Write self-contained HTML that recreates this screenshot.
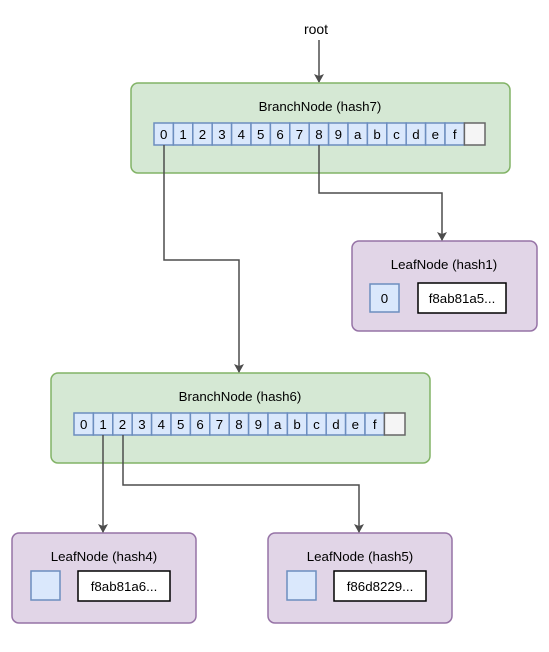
<!DOCTYPE html>
<html><head><meta charset="utf-8"><style>body{margin:0;background:#fff}svg{display:block}text{font-family:"Liberation Sans",Arial,sans-serif;fill:#000}</style></head>
<body>
<svg width="549" height="652" viewBox="0 0 549 652" xmlns="http://www.w3.org/2000/svg">
<defs><marker id="a" markerWidth="10" markerHeight="10" refX="8" refY="5" orient="auto" markerUnits="userSpaceOnUse"><path d="M0,0 L9,5 L0,10 L2,5 z" fill="#4d4d4d"/></marker></defs>
<text x="316" y="34" font-size="14" text-anchor="middle">root</text>
<g fill="none" stroke="#4d4d4d" stroke-width="1.5">
<path d="M319 40 V82" marker-end="url(#a)"/>
</g>
<rect x="131" y="83" width="379" height="90" rx="7" fill="#d5e8d4" stroke="#82b366" stroke-width="1.5"/>
<text x="320" y="111" font-size="13.3" text-anchor="middle">BranchNode (hash7)</text>
<rect x="51" y="373" width="379" height="90" rx="7" fill="#d5e8d4" stroke="#82b366" stroke-width="1.5"/>
<text x="240" y="401" font-size="13.3" text-anchor="middle">BranchNode (hash6)</text>
<g font-size="13.3" text-anchor="middle" stroke-width="1.5">
<rect x="154" y="123" width="19.4" height="22" fill="#dae8fc" stroke="#6c8ebf"/><text x="163.7" y="139">0</text>
<rect x="173.4" y="123" width="19.4" height="22" fill="#dae8fc" stroke="#6c8ebf"/><text x="183.1" y="139">1</text>
<rect x="192.8" y="123" width="19.4" height="22" fill="#dae8fc" stroke="#6c8ebf"/><text x="202.5" y="139">2</text>
<rect x="212.2" y="123" width="19.4" height="22" fill="#dae8fc" stroke="#6c8ebf"/><text x="221.9" y="139">3</text>
<rect x="231.6" y="123" width="19.4" height="22" fill="#dae8fc" stroke="#6c8ebf"/><text x="241.3" y="139">4</text>
<rect x="251" y="123" width="19.4" height="22" fill="#dae8fc" stroke="#6c8ebf"/><text x="260.7" y="139">5</text>
<rect x="270.4" y="123" width="19.4" height="22" fill="#dae8fc" stroke="#6c8ebf"/><text x="280.1" y="139">6</text>
<rect x="289.8" y="123" width="19.4" height="22" fill="#dae8fc" stroke="#6c8ebf"/><text x="299.5" y="139">7</text>
<rect x="309.2" y="123" width="19.4" height="22" fill="#dae8fc" stroke="#6c8ebf"/><text x="318.9" y="139">8</text>
<rect x="328.6" y="123" width="19.4" height="22" fill="#dae8fc" stroke="#6c8ebf"/><text x="338.3" y="139">9</text>
<rect x="348" y="123" width="19.4" height="22" fill="#dae8fc" stroke="#6c8ebf"/><text x="357.7" y="139">a</text>
<rect x="367.4" y="123" width="19.4" height="22" fill="#dae8fc" stroke="#6c8ebf"/><text x="377.1" y="139">b</text>
<rect x="386.8" y="123" width="19.4" height="22" fill="#dae8fc" stroke="#6c8ebf"/><text x="396.5" y="139">c</text>
<rect x="406.2" y="123" width="19.4" height="22" fill="#dae8fc" stroke="#6c8ebf"/><text x="415.9" y="139">d</text>
<rect x="425.6" y="123" width="19.4" height="22" fill="#dae8fc" stroke="#6c8ebf"/><text x="435.3" y="139">e</text>
<rect x="445" y="123" width="19.4" height="22" fill="#dae8fc" stroke="#6c8ebf"/><text x="454.7" y="139">f</text>
<rect x="464.4" y="123" width="20.6" height="22" fill="#f5f5f5" stroke="#666"/>

<rect x="74" y="413" width="19.4" height="22" fill="#dae8fc" stroke="#6c8ebf"/><text x="83.7" y="429">0</text>
<rect x="93.4" y="413" width="19.4" height="22" fill="#dae8fc" stroke="#6c8ebf"/><text x="103.1" y="429">1</text>
<rect x="112.8" y="413" width="19.4" height="22" fill="#dae8fc" stroke="#6c8ebf"/><text x="122.5" y="429">2</text>
<rect x="132.2" y="413" width="19.4" height="22" fill="#dae8fc" stroke="#6c8ebf"/><text x="141.9" y="429">3</text>
<rect x="151.6" y="413" width="19.4" height="22" fill="#dae8fc" stroke="#6c8ebf"/><text x="161.3" y="429">4</text>
<rect x="171" y="413" width="19.4" height="22" fill="#dae8fc" stroke="#6c8ebf"/><text x="180.7" y="429">5</text>
<rect x="190.4" y="413" width="19.4" height="22" fill="#dae8fc" stroke="#6c8ebf"/><text x="200.1" y="429">6</text>
<rect x="209.8" y="413" width="19.4" height="22" fill="#dae8fc" stroke="#6c8ebf"/><text x="219.5" y="429">7</text>
<rect x="229.2" y="413" width="19.4" height="22" fill="#dae8fc" stroke="#6c8ebf"/><text x="238.9" y="429">8</text>
<rect x="248.6" y="413" width="19.4" height="22" fill="#dae8fc" stroke="#6c8ebf"/><text x="258.3" y="429">9</text>
<rect x="268" y="413" width="19.4" height="22" fill="#dae8fc" stroke="#6c8ebf"/><text x="277.7" y="429">a</text>
<rect x="287.4" y="413" width="19.4" height="22" fill="#dae8fc" stroke="#6c8ebf"/><text x="297.1" y="429">b</text>
<rect x="306.8" y="413" width="19.4" height="22" fill="#dae8fc" stroke="#6c8ebf"/><text x="316.5" y="429">c</text>
<rect x="326.2" y="413" width="19.4" height="22" fill="#dae8fc" stroke="#6c8ebf"/><text x="335.9" y="429">d</text>
<rect x="345.6" y="413" width="19.4" height="22" fill="#dae8fc" stroke="#6c8ebf"/><text x="355.3" y="429">e</text>
<rect x="365" y="413" width="19.4" height="22" fill="#dae8fc" stroke="#6c8ebf"/><text x="374.7" y="429">f</text>
<rect x="384.4" y="413" width="20.6" height="22" fill="#f5f5f5" stroke="#666"/>
</g>
<g font-size="13.3" text-anchor="middle">
<rect x="352" y="241" width="185" height="90" rx="7" fill="#e1d5e7" stroke="#9673a6" stroke-width="1.5"/>
<text x="444" y="269">LeafNode (hash1)</text>
<rect x="370" y="284" width="29" height="28" fill="#dae8fc" stroke="#6c8ebf" stroke-width="1.5"/><text x="384.5" y="303">0</text>
<rect x="418" y="283" width="88" height="30" fill="#fff" stroke="#000" stroke-width="1.5"/><text x="462" y="303">f8ab81a5...</text>

<rect x="12" y="533" width="184" height="90" rx="7" fill="#e1d5e7" stroke="#9673a6" stroke-width="1.5"/>
<text x="104" y="561">LeafNode (hash4)</text>
<rect x="31" y="571" width="29" height="29" fill="#dae8fc" stroke="#6c8ebf" stroke-width="1.5"/>
<rect x="78" y="571" width="92" height="30" fill="#fff" stroke="#000" stroke-width="1.5"/><text x="124" y="591">f8ab81a6...</text>

<rect x="268" y="533" width="184" height="90" rx="7" fill="#e1d5e7" stroke="#9673a6" stroke-width="1.5"/>
<text x="360" y="561">LeafNode (hash5)</text>
<rect x="287" y="571" width="29" height="29" fill="#dae8fc" stroke="#6c8ebf" stroke-width="1.5"/>
<rect x="334" y="571" width="92" height="30" fill="#fff" stroke="#000" stroke-width="1.5"/><text x="380" y="591">f86d8229...</text>
</g>
<g fill="none" stroke="#4d4d4d" stroke-width="1.5">
<path d="M164 145 V260 H239 V372" marker-end="url(#a)"/>
<path d="M319 145 V193 H442 V240" marker-end="url(#a)"/>
<path d="M103 435 V532" marker-end="url(#a)"/>
<path d="M123 435 V485 H359 V532" marker-end="url(#a)"/>
</g>
</svg>
</body></html>
